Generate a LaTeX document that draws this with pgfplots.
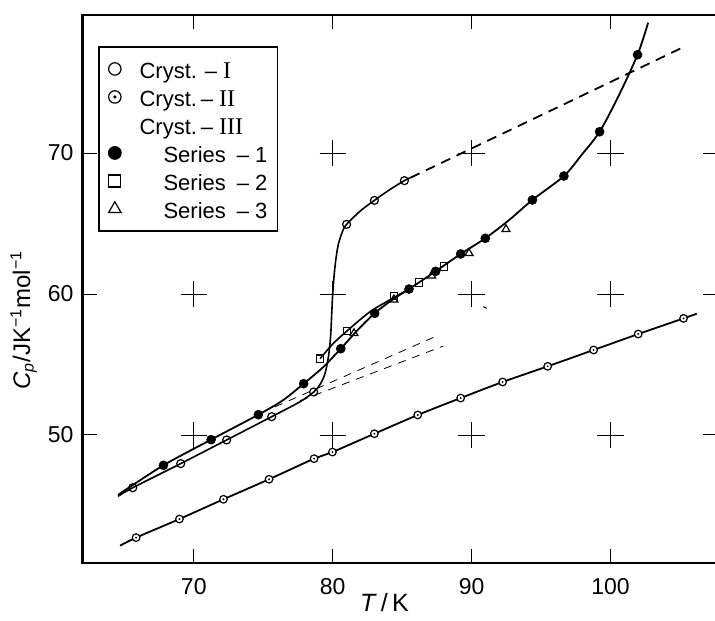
\documentclass[border=0pt]{standalone}
\usepackage{pgfplots}
\pgfplotsset{compat=1.18}
\usepackage{fontspec}
\setmainfont{Liberation Sans}
\newfontfamily\serif{Liberation Serif}
\pgfdeclareplotmark{odot}{%
  \pgfpathcircle{\pgfpointorigin}{\pgfplotmarksize}%
  \pgfsetfillcolor{white}\pgfusepathqfillstroke
  \pgfpathcircle{\pgfpointorigin}{0.28\pgfplotmarksize}%
  \pgfsetfillcolor{black}\pgfusepathqfill}
\begin{document}
\begin{tikzpicture}
\begin{axis}[name=ax, scale only axis, width=317pt, height=274pt,
  xmin=62.0, xmax=107.63, ymin=40.92, ymax=79.79,
  xtick={70,80,90,100}, ytick={50,60,70},
  xtick pos=both, ytick pos=both, xticklabel pos=lower, yticklabel pos=left,
  tick align=inside, major tick length=7pt,
  tick style={line width=0.5pt, black},
  axis line style={line width=1.3pt},
  tick label style={font=\fontsize{11.5}{13}\selectfont},
  /pgf/number format/assume math mode=true,
  xticklabel style={yshift=-4pt},
  yticklabel style={xshift=-1pt},
  xlabel={\textit{T}\,/\,K},
  xlabel style={at={(axis description cs:0.476,0)}, anchor=center, yshift=-20pt, font=\fontsize{12.5}{14}\selectfont},
  ylabel={\textit{C}\textsubscript{\textit{p}}/JK\textsuperscript{−1}mol\textsuperscript{−1}},
  ylabel style={at={(axis description cs:-0.093,0.443)}, anchor=center, font=\fontsize{12}{14}\selectfont},
  legend image code/.code={\path (0pt,0pt) (14.5pt,0pt); \draw[#1] plot coordinates {(4.5pt,0pt)};},
  legend cell align=left,
  legend style={at={(axis description cs:0.025,0.943)}, anchor=north west, draw=black, line width=0.7pt,
    inner xsep=3pt, inner ysep=4pt, row sep=0pt, font=\fontsize{11}{13}\selectfont,
    nodes={inner xsep=2pt, inner ysep=0pt, text height=11.9pt, text depth=2.1pt}},
]
\addlegendimage{only marks, mark=o, mark size=3.1pt, mark options={fill=white, line width=0.6pt}}
\addlegendentry{Cryst.\hspace{4pt}–\hspace{3pt}{\serif\fontsize{12}{13}\selectfont I}}
\addlegendimage{only marks, mark=odot, mark size=3.1pt, mark options={line width=0.6pt}}
\addlegendentry{Cryst.\hspace{2pt}–\hspace{3pt}{\serif\fontsize{12}{13}\selectfont II}}
\addlegendimage{draw=none}
\addlegendentry{Cryst.\hspace{2pt}–\hspace{3pt}{\serif\fontsize{12}{13}\selectfont III}}
\addlegendimage{only marks, mark=*, mark size=3.1pt}
\addlegendentry{\hspace{12pt}Series\hspace{5.5pt}–\hspace{3pt}1}
\addlegendimage{only marks, mark=square, mark size=3pt, mark options={line width=0.6pt}}
\addlegendentry{\hspace{12pt}Series\hspace{5.5pt}–\hspace{3pt}2}
\addlegendimage{only marks, mark=triangle, mark size=3.6pt, mark options={line width=0.6pt}}
\addlegendentry{\hspace{12pt}Series\hspace{5.5pt}–\hspace{3pt}3\hspace{3pt}}

% grid crosses
\addplot[forget plot, only marks, mark=+, mark size=6.6pt, mark options={line width=0.45pt}] coordinates {
(80,70)(90,70)(100,70)(70,60)(80,60)(90,60)(100,60)(70,50)(80,50)(90,50)(100,50)};

% thin dashed extrapolations
\addplot[forget plot, line width=0.4pt, dash pattern=on 4pt off 3.5pt] coordinates {(75.85,52.0)(87.48,57.02)};
\addplot[forget plot, line width=0.4pt, dash pattern=on 4pt off 3.5pt] coordinates {(77.65,52.43)(87.96,56.31)};
% thick dashed
\addplot[forget plot, line width=0.9pt, dash pattern=on 5pt off 3.5pt] coordinates {(85.6,68.25)(105.3,77.54)};

% Cryst-II line
\addplot[forget plot, line width=0.9pt, smooth] coordinates {
(64.7,42.15)(65.85,42.72)(68.97,44.04)(72.14,45.44)(75.42,46.86)(78.66,48.32)(79.98,48.79)(83.0,50.09)(86.12,51.42)(89.21,52.62)(92.23,53.76)(95.47,54.87)(98.78,56.03)(101.99,57.16)(105.25,58.27)(106.2,58.6)};
% Cryst-I curve
\addplot[forget plot, line width=0.8pt, smooth] coordinates {
(64.55,45.65)(65.61,46.26)(69.06,47.97)(72.37,49.65)(75.61,51.3)(77.65,52.36)(78.63,53.05)(79.1,53.6)(79.45,54.37)(79.7,55.6)(79.85,57.0)(79.93,58.63)(80.0,60.0)(80.1,61.3)(80.22,62.4)(80.4,63.5)(80.7,64.42)(81.0,64.94)(82.0,65.9)(83.0,66.64)(84.1,67.4)(85.16,68.04)(85.6,68.25)};
% Series-1 curve
\addplot[forget plot, line width=0.9pt, smooth] coordinates {
(64.55,45.75)(67.82,47.85)(71.25,49.67)(74.65,51.44)(76.4,52.45)(77.91,53.64)(79.3,54.8)(80.58,56.12)(81.8,57.45)(83.02,58.63)(84.3,59.6)(85.49,60.35)(87.41,61.61)(89.21,62.84)(90.98,63.95)(92.7,65.25)(94.37,66.67)(96.64,68.37)(97.9,69.85)(99.21,71.51)(100.55,74.0)(101.94,76.97)(102.7,79.24)};
% Series-2 curve
\addplot[forget plot, line width=0.8pt, smooth] coordinates {
(79.09,55.41)(80.0,56.45)(81.03,57.38)(82.7,58.75)(84.41,59.75)(85.49,60.35)};

% stray marks
\draw[line width=0.5pt] (axis cs:73.76,73.76) -- (axis cs:73.40,72.57);
\draw[line width=0.5pt] (axis cs:90.84,59.1) -- (axis cs:91.08,58.98);

% data marks
\addplot[forget plot, only marks, mark=odot, mark size=1.9pt, mark options={line width=0.6pt}] coordinates {
(65.85,42.72)(68.97,44.04)(72.14,45.44)(75.42,46.86)(78.66,48.32)(79.98,48.79)(83.0,50.09)(86.12,51.42)(89.21,52.62)(92.23,53.76)(95.47,54.87)(98.78,56.03)(101.99,57.16)(105.25,58.27)};
\addplot[forget plot, only marks, mark=o, mark size=2pt, mark options={fill=white, line width=0.6pt}] coordinates {
(65.61,46.26)(69.06,47.97)(72.37,49.65)(75.61,51.3)(78.63,53.05)(81.0,64.94)(83.0,66.64)(85.16,68.04)};
\addplot[forget plot, only marks, mark=square, mark size=1.9pt, mark options={fill=white, line width=0.6pt}] coordinates {
(79.09,55.41)(81.03,57.38)(84.41,59.86)(86.21,60.82)(88.01,61.94)};
\addplot[forget plot, only marks, mark=triangle, mark size=2.3pt, mark options={fill=white, line width=0.6pt}] coordinates {
(81.53,57.21)(84.4,59.6)(87.12,61.3)(89.81,62.89)(92.47,64.59)};
\addplot[forget plot, only marks, mark=*, mark size=2.2pt] coordinates {
(67.82,47.85)(71.25,49.67)(74.65,51.44)(77.91,53.64)(80.58,56.12)(83.02,58.63)(85.49,60.35)(87.41,61.61)(89.21,62.84)(90.98,63.95)(94.37,66.67)(96.64,68.37)(99.21,71.51)(101.94,76.97)};
\end{axis}
\pgfresetboundingbox
\path ([xshift=-41.3pt,yshift=-28.5pt]ax.south west) rectangle ([xshift=-0.8pt,yshift=7.5pt]ax.north east);
\end{tikzpicture}
\end{document}
